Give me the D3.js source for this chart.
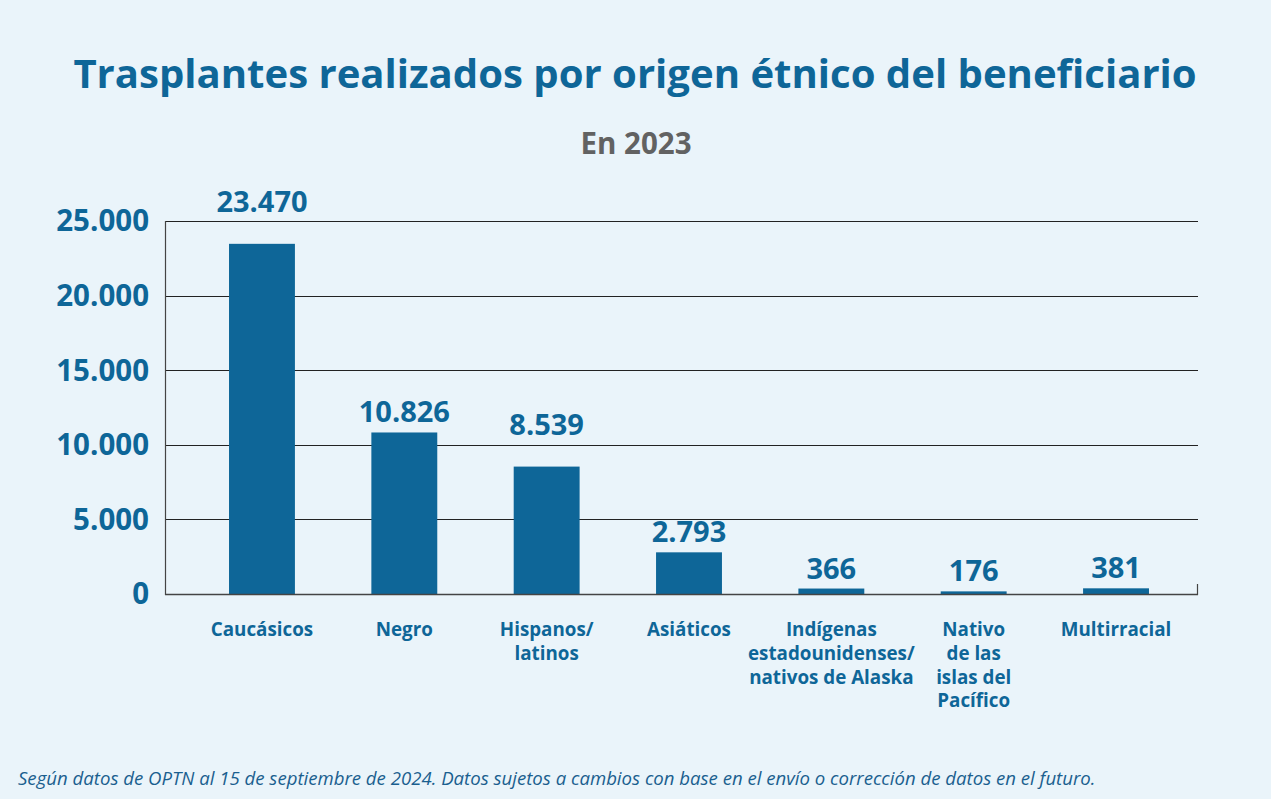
<!DOCTYPE html>
<html>
<head>
<meta charset="utf-8">
<script src="https://cdn.jsdelivr.net/npm/d3@7"></script>
<style>
  html, body { margin: 0; padding: 0; background: #eaf4fa; }
  svg { display: block; font-family: "Open Sans", "Noto Sans", sans-serif; }
</style>
</head>
<body>
<svg id="chart" width="1271" height="799"></svg>
<script>
const categories = [
  ["Caucásicos"],
  ["Negro"],
  ["Hispanos/", "latinos"],
  ["Asiáticos"],
  ["Indígenas", "estadounidenses/", "nativos de Alaska"],
  ["Nativo", "de las", "islas del", "Pacífico"],
  ["Multirracial"]
];
const values = [23470, 10826, 8539, 2793, 366, 176, 381];
const yTicks = [0, 5000, 10000, 15000, 20000, 25000];
const titleText = "Trasplantes realizados por origen étnico del beneficiario";
const subtitleText = "En 2023";
const footnoteText = "Según datos de OPTN al 15 de septiembre de 2024. Datos sujetos a cambios con base en el envío o corrección de datos en el futuro.";

const W = 1271, H = 799;
const blue = "#0e6698";
const svg = d3.select("#chart");
svg.append("rect").attr("width", W).attr("height", H).attr("fill", "#eaf4fa");

const plot = { left: 165, right: 1198, top: 221, bottom: 594 };
const fmt = d3.formatLocale({ decimal: ",", thousands: ".", grouping: [3], currency: ["", ""] }).format(",d");

const x = d3.scaleBand()
  .domain(d3.range(categories.length))
  .range([190.8, 1187.2])
  .paddingInner(0.537)
  .paddingOuter(0.2685);
const y = d3.scaleLinear().domain([0, 25000]).range([plot.bottom, plot.top]);

// title
svg.append("text").attr("x", 635).attr("y", 88).attr("text-anchor", "middle")
  .attr("font-size", 40.1).attr("font-weight", 700).attr("fill", blue).text(titleText);
svg.append("text").attr("x", 636).attr("y", 154).attr("text-anchor", "middle")
  .attr("font-size", 29.5).attr("font-weight", 700).attr("fill", "#626262").text(subtitleText);

// gridlines
svg.append("g").selectAll("line").data(yTicks.filter(d => d > 0)).join("line")
  .attr("x1", plot.left).attr("x2", plot.right)
  .attr("y1", d => Math.round(y(d)) + 0.5).attr("y2", d => Math.round(y(d)) + 0.5)
  .attr("stroke", "#222").attr("stroke-width", 1.2);

// y axis labels
svg.append("g").selectAll("text").data(yTicks).join("text")
  .attr("x", 149).attr("y", d => y(d)).attr("dy", "0.35em")
  .attr("text-anchor", "end").attr("font-size", 29.5).attr("font-weight", 700)
  .attr("fill", blue).text(d => fmt(d));

// bars
svg.append("g").selectAll("rect").data(values).join("rect")
  .attr("x", (d, i) => x(i)).attr("width", x.bandwidth())
  .attr("y", d => y(d)).attr("height", d => y(0) - y(d))
  .attr("fill", blue);

// axis lines
svg.append("line").attr("x1", plot.left + 0.5).attr("x2", plot.left + 0.5)
  .attr("y1", plot.top).attr("y2", plot.bottom + 1).attr("stroke", "#444").attr("stroke-width", 1.2);
svg.append("line").attr("x1", plot.left).attr("x2", plot.right)
  .attr("y1", plot.bottom + 0.5).attr("y2", plot.bottom + 0.5).attr("stroke", "#444").attr("stroke-width", 1.5);
svg.append("line").attr("x1", plot.right - 0.5).attr("x2", plot.right - 0.5)
  .attr("y1", plot.bottom - 10).attr("y2", plot.bottom + 1).attr("stroke", "#444").attr("stroke-width", 1.2);

// value labels, lifted above gridlines when they would collide
const labelSize = 29, capH = 20;
function labelBaseline(v) {
  let b = y(v) - 10;
  const hit = yTicks.some(t => t > 0 && y(t) > b - capH - 2 && y(t) < b + 2);
  return hit ? b - 22 : b;
}
svg.append("g").selectAll("text").data(values).join("text")
  .attr("x", (d, i) => x(i) + x.bandwidth() / 2)
  .attr("y", d => labelBaseline(d))
  .attr("text-anchor", "middle").attr("font-size", labelSize).attr("font-weight", 700)
  .attr("fill", blue).text(d => fmt(d));

// category labels
const cat = svg.append("g").selectAll("text").data(categories).join("text")
  .attr("x", (d, i) => x(i) + x.bandwidth() / 2)
  .attr("y", 636)
  .attr("text-anchor", "middle").attr("font-size", 18.8).attr("font-weight", 700)
  .attr("fill", blue);
cat.selectAll("tspan").data(d => d).join("tspan")
  .attr("x", function() { return this.parentNode.getAttribute("x"); })
  .attr("dy", (d, i) => i === 0 ? 0 : 23.8)
  .text(d => d);

// footnote
svg.append("text").attr("x", 18).attr("y", 785)
  .attr("font-size", 18.6).attr("font-style", "italic").attr("fill", "#1a5f8f").text(footnoteText);
</script>
</body>
</html>
